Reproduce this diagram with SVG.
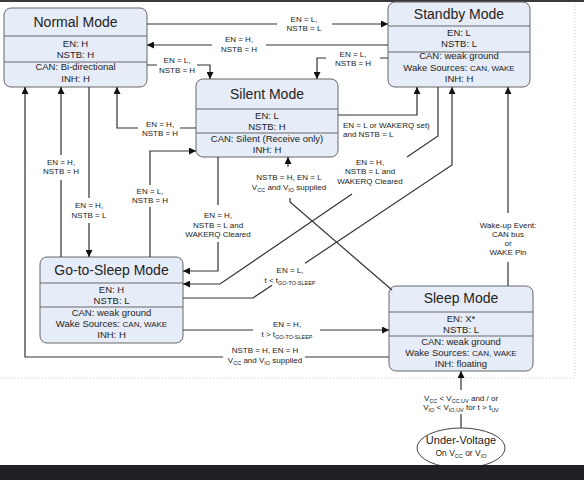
<svg xmlns="http://www.w3.org/2000/svg" width="584" height="480" viewBox="0 0 584 480">
<style>
text{font-family:"Liberation Sans",Arial,sans-serif;fill:#222}
.box{fill:#e7edf8;stroke:#666;stroke-width:1}
.div{stroke:#666;stroke-width:1}
.t{font-size:14px;text-anchor:middle}
.s{font-size:9.5px;text-anchor:middle}
.sc{font-size:8px}
.l{font-size:8px;text-anchor:middle}
.ls{font-size:8px}
.sub{font-size:5.5px}
.c path{fill:none;stroke:#333;stroke-width:1.2}
.dot{stroke:#ccc;stroke-width:1;stroke-dasharray:1 2;fill:none}
</style>
<defs>
<marker id="a" viewBox="0 0 10 10" refX="10" refY="5" markerWidth="8" markerHeight="7" markerUnits="userSpaceOnUse" orient="auto">
<path d="M0,0 L10,5 L0,10 z" fill="#111"/>
</marker>
</defs>
<rect width="584" height="480" fill="#fff"/>
<rect x="0" y="0" width="584" height="2" fill="#3a3a3a"/>
<path class="dot" d="M0,378 H575 M575,3 V378"/>

<g id="normal">
<rect class="box" x="4" y="8" width="143" height="79" rx="7"/>
<line class="div" x1="4" y1="36" x2="147" y2="36"/>
<line class="div" x1="4" y1="62" x2="147" y2="62"/>
<text class="t" x="75.5" y="27">Normal Mode</text>
<text class="s" x="75.5" y="47">EN: H</text>
<text class="s" x="75.5" y="58">NSTB: H</text>
<text class="s" x="75.5" y="70">CAN: Bi-directional</text>
<text class="s" x="75.5" y="82">INH: H</text>
</g>

<g id="standby">
<rect class="box" x="388" y="2" width="142" height="85" rx="7"/>
<line class="div" x1="388" y1="26" x2="530" y2="26"/>
<line class="div" x1="388" y1="52" x2="530" y2="52"/>
<text class="t" x="459" y="19">Standby Mode</text>
<text class="s" x="459" y="36">EN: L</text>
<text class="s" x="459" y="47">NSTB: L</text>
<text class="s" x="459" y="59">CAN: weak ground</text>
<text class="s" x="459" y="71">Wake Sources: <tspan class="sc">CAN, WAKE</tspan></text>
<text class="s" x="459" y="82">INH: H</text>
</g>

<g id="silent">
<rect class="box" x="196" y="79" width="142" height="78" rx="7"/>
<line class="div" x1="196" y1="109" x2="338" y2="109"/>
<line class="div" x1="196" y1="133" x2="338" y2="133"/>
<text class="t" x="267" y="99">Silent Mode</text>
<text class="s" x="267" y="119">EN: L</text>
<text class="s" x="267" y="130">NSTB: H</text>
<text class="s" x="267" y="142">CAN: Silent (Receive only)</text>
<text class="s" x="267" y="153">INH: H</text>
</g>

<g id="gotosleep">
<rect class="box" x="40" y="257" width="143" height="86" rx="7"/>
<line class="div" x1="40" y1="283" x2="183" y2="283"/>
<line class="div" x1="40" y1="307" x2="183" y2="307"/>
<text class="t" x="111.5" y="275">Go-to-Sleep Mode</text>
<text class="s" x="111.5" y="293">EN: H</text>
<text class="s" x="111.5" y="304">NSTB: L</text>
<text class="s" x="111.5" y="316">CAN: weak ground</text>
<text class="s" x="111.5" y="327">Wake Sources: <tspan class="sc">CAN, WAKE</tspan></text>
<text class="s" x="111.5" y="338">INH: H</text>
</g>

<g id="sleep">
<rect class="box" x="389" y="286" width="144" height="85" rx="7"/>
<line class="div" x1="389" y1="312" x2="533" y2="312"/>
<line class="div" x1="389" y1="336" x2="533" y2="336"/>
<text class="t" x="461" y="303">Sleep Mode</text>
<text class="s" x="461" y="322">EN: X*</text>
<text class="s" x="461" y="333">NSTB: L</text>
<text class="s" x="461" y="345">CAN: weak ground</text>
<text class="s" x="461" y="356">Wake Sources: <tspan class="sc">CAN, WAKE</tspan></text>
<text class="s" x="461" y="367">INH: floating</text>
</g>

<g id="undervoltage">
<ellipse cx="461" cy="448" rx="44" ry="20" fill="#fff" stroke="#444" stroke-width="1"/>
<text x="461" y="444" font-size="11" text-anchor="middle">Under-Voltage</text>
<text x="461" y="456" font-size="8.5" text-anchor="middle">On V<tspan class="sub" dy="1.5">CC</tspan><tspan dy="-1.5"> or V</tspan><tspan class="sub" dy="1.5">IO</tspan></text>
</g>

<g class="c" id="connectors">
<path d="M147,24 H277 M332,24 H388" marker-end="url(#a)"/>
<path d="M388,45 H266 M212,45 H147" marker-end="url(#a)"/>
<path d="M147,65 H157 M197,65 H210 V79" marker-end="url(#a)"/>
<path d="M388,58 H380 M326,58 H317 V79" marker-end="url(#a)"/>
<path d="M338,115 H417 V87" marker-end="url(#a)"/>
<path d="M196,128 H180 M138,128 H117 V87" marker-end="url(#a)"/>
<path d="M150,257 V207 M150,185 V151 H196" marker-end="url(#a)"/>
<path d="M61,257 V180 M61,155 V87" marker-end="url(#a)"/>
<path d="M89,87 V198 M89,223 V257" marker-end="url(#a)"/>
<path d="M218,157 V205 M218,242 V271 H183" marker-end="url(#a)"/>
<path d="M438,87 V136 L407,157 M352,194 L220,284 H183" marker-end="url(#a)"/>
<path d="M183,298 H253 L272,285.3 M305,263.3 L452,165 V87" marker-end="url(#a)"/>
<path d="M392,290 L290,202 V198 M288,167 V157" marker-end="url(#a)"/>
<path d="M508,286 V262 M508,213 V87" marker-end="url(#a)"/>
<path d="M183,330 H253 M320,330 H389" marker-end="url(#a)"/>
<path d="M389,357 H305 M223,357 H25 V87" marker-end="url(#a)"/>
<path d="M461,428 V414 M461,390 V371" marker-end="url(#a)"/>

<text class="l" x="304" y="22">EN = L,</text>
<text class="l" x="304" y="31">NSTB = L</text>
<text class="l" x="239" y="42">EN = H,</text>
<text class="l" x="239" y="52">NSTB = H</text>
<text class="l" x="177" y="63">EN = L,</text>
<text class="l" x="177" y="73">NSTB = H</text>
<text class="l" x="353" y="57">EN = L,</text>
<text class="l" x="353" y="66">NSTB = H</text>
<text class="ls" x="343" y="128">EN = L or WAKERQ set)</text>
<text class="ls" x="343" y="137">and NSTB = L</text>
<text class="l" x="160" y="127">EN = H,</text>
<text class="l" x="160" y="136">NSTB = H</text>
<text class="l" x="150" y="194">EN = L,</text>
<text class="l" x="150" y="203">NSTB = H</text>
<text class="l" x="61" y="165">EN = H,</text>
<text class="l" x="61" y="174">NSTB = H</text>
<text class="l" x="89" y="208">EN = H,</text>
<text class="l" x="89" y="218">NSTB = L</text>
<text class="l" x="218" y="218">EN = H,</text>
<text class="l" x="218" y="228">NSTB = L and</text>
<text class="l" x="218" y="237">WAKERQ Cleared</text>
<text class="l" x="370" y="165">EN = H,</text>
<text class="l" x="370" y="174">NSTB = L and</text>
<text class="l" x="370" y="184">WAKERQ Cleared</text>
<text class="l" x="289" y="180">NSTB = H, EN = L</text>
<text class="l" x="289" y="190">V<tspan class="sub" dy="1.5">CC</tspan><tspan dy="-1.5"> and V</tspan><tspan class="sub" dy="1.5">IO</tspan><tspan dy="-1.5"> supplied</tspan></text>
<text class="l" x="290" y="273">EN = L,</text>
<text class="l" x="290" y="283">t &lt; t<tspan class="sub" dy="1.5">GO-TO-SLEEP</tspan></text>
<text class="l" x="287" y="327">EN = H,</text>
<text class="l" x="287" y="337">t &gt; t<tspan class="sub" dy="1.5">GO-TO-SLEEP</tspan></text>
<text class="l" x="265" y="353">NSTB = H, EN = H</text>
<text class="l" x="265" y="363">V<tspan class="sub" dy="1.5">CC</tspan><tspan dy="-1.5"> and V</tspan><tspan class="sub" dy="1.5">IO</tspan><tspan dy="-1.5"> supplied</tspan></text>
<text class="l" x="508" y="228">Wake-up Event:</text>
<text class="l" x="508" y="237">CAN bus</text>
<text class="l" x="508" y="246">or</text>
<text class="l" x="508" y="255">WAKE Pin</text>
<text class="l" x="461" y="401">V<tspan class="sub" dy="1.5">CC</tspan><tspan dy="-1.5"> &lt; V</tspan><tspan class="sub" dy="1.5">CC,UV</tspan><tspan dy="-1.5"> and / or</tspan></text>
<text class="l" x="461" y="410">V<tspan class="sub" dy="1.5">IO</tspan><tspan dy="-1.5"> &lt; V</tspan><tspan class="sub" dy="1.5">IO,UV</tspan><tspan dy="-1.5"> for t &gt; t</tspan><tspan class="sub" dy="1.5">UV</tspan></text>
</g>

<rect x="0" y="465" width="584" height="15" fill="#202124"/>
</svg>
